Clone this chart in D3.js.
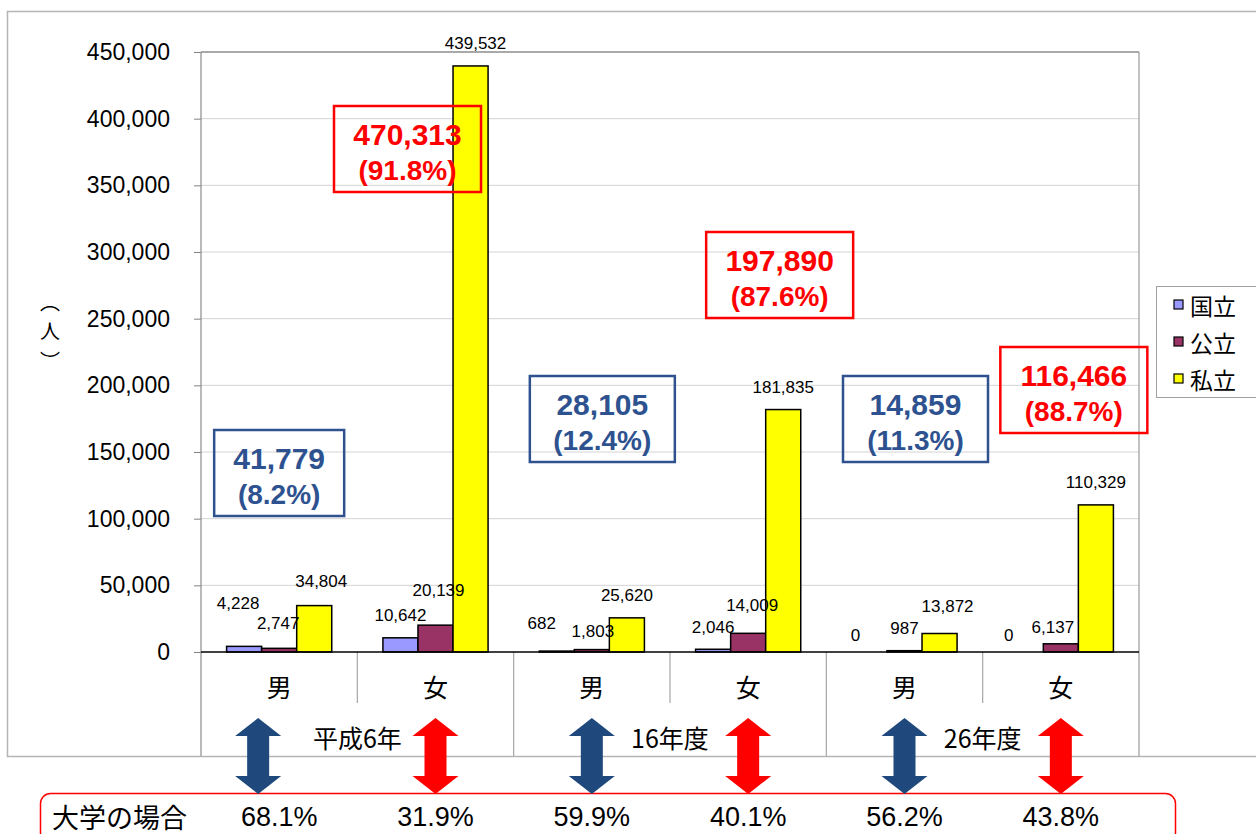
<!DOCTYPE html>
<html>
<head>
<meta charset="utf-8">
<script src="https://cdn.jsdelivr.net/npm/d3@7"></script>
<style>
  body { margin: 0; background: #fff; }
  svg { display: block; }
</style>
</head>
<body>
<div id="chart"></div>
<script>
// 男女別・設置者別の学生数
const groups = ["男", "女", "男", "女", "男", "女"];
const years = ["平成6年", "16年度", "26年度"];
const series = ["国立", "公立", "私立"];
const kokuritsu = [4228, 10642, 682, 2046, 0, 0];
const kouritsu = [2747, 20139, 1803, 14009, 987, 6137];
const shiritsu = [34804, 439532, 25620, 181835, 13872, 110329];
const univShare = ["68.1%", "31.9%", "59.9%", "40.1%", "56.2%", "43.8%"];
const yTicks = [0, 50000, 100000, 150000, 200000, 250000, 300000, 350000, 400000, 450000];
const yTitle = ["︵", "人", "︶"];

// layout only: hand-moved labels, annotation boxes, arrows
const labelNudge = [
  [[-6, -21], [-1, -3], [7, -2]],
  [[0, 0], [3, -13], [5, 0]],
  [[-15, -6], [1, 4], [0, 0]],
  [[0, 0], [4, -6], [0, 0]],
  [[-14, 5], [0, 0], [8, -5]],
  [[-17, 5], [-8, 6], [0, 0]]
];
const boxLayout = [
  { dx: 0, top: 166500, w: 130 },
  { dx: -28, top: 409500, w: 147 },
  { dx: 10.5, top: 207000, w: 145 },
  { dx: 31.5, top: 315000, w: 147 },
  { dx: 11, top: 207000, w: 145 },
  { dx: 13, top: 228750, w: 147 }
];
const arrowNudge = [-21, 0, 0, 0, 0, 0];

const colors = ["#9999ff", "#993366", "#ffff00"];
const blue = "#1f497d", red = "#ff0000";
const numFont = "'Liberation Sans', Arial, sans-serif";
const jpFont = "'Noto Sans CJK JP', sans-serif";

const W = 1256, H = 834;
const svg = d3.select("#chart").append("svg").attr("width", W).attr("height", H);

const plotL = 201, plotR = 1139, plotT = 52, plotB = 652;

const x0 = d3.scaleBand().domain(d3.range(groups.length)).range([plotL, plotR]);
const x1 = d3.scaleBand().domain(series).range([0, x0.bandwidth()]).paddingOuter(0.73);
const y = d3.scaleLinear().domain([0, 450000]).range([plotB, plotT]);

const values = [kokuritsu, kouritsu, shiritsu];

// outer frame
svg.append("rect")
  .attr("x", 7.5).attr("y", 11.5).attr("width", 1400).attr("height", 745)
  .attr("fill", "none").attr("stroke", "#b4b4b4").attr("stroke-width", 1.5);

// gridlines
svg.append("g").selectAll("line")
  .data(yTicks.filter(d => d > 0 && d < 450000))
  .join("line")
  .attr("x1", plotL).attr("x2", plotR)
  .attr("y1", d => y(d)).attr("y2", d => y(d))
  .attr("stroke", "#d4d4d4").attr("stroke-width", 1);

// plot border top / right
svg.append("line").attr("x1", plotL).attr("x2", plotR).attr("y1", plotT).attr("y2", plotT)
  .attr("stroke", "#8c8c8c").attr("stroke-width", 1.5);
svg.append("line").attr("x1", plotR).attr("x2", plotR).attr("y1", plotT).attr("y2", 756)
  .attr("stroke", "#9a9a9a").attr("stroke-width", 1.2);

// y axis
const yAxis = svg.append("g")
  .attr("transform", `translate(${plotL},0)`)
  .call(d3.axisLeft(y).tickValues(yTicks).tickSize(7).tickPadding(24).tickFormat(d3.format(",")));
yAxis.select(".domain").remove();
yAxis.selectAll(".tick line").attr("stroke", "#808080");
yAxis.selectAll(".tick text")
  .attr("font-family", numFont).attr("font-size", 23).attr("fill", "#000");
svg.append("line").attr("x1", plotL).attr("x2", plotL).attr("y1", plotT).attr("y2", 756)
  .attr("stroke", "#8c8c8c").attr("stroke-width", 1.2);

// y title (人), stacked vertically
svg.append("g").selectAll("text")
  .data(yTitle)
  .join("text")
  .attr("x", 50)
  .attr("y", (d, i) => 301 + i * 29.5)
  .attr("text-anchor", "middle").attr("dominant-baseline", "central")
  .attr("font-family", jpFont).attr("font-size", 20)
  .text(d => d);

// category separators
d3.range(1, groups.length).forEach(i => {
  const xx = x0(i);
  svg.append("line")
    .attr("x1", xx).attr("x2", xx)
    .attr("y1", plotB).attr("y2", i % 2 === 0 ? 756 : 703)
    .attr("stroke", "#a6a6a6").attr("stroke-width", 1.2);
});

// bars
const bars = svg.append("g");
groups.forEach((g, gi) => {
  series.forEach((s, si) => {
    const v = values[si][gi];
    bars.append("rect")
      .attr("x", x0(gi) + x1(s))
      .attr("y", y(v))
      .attr("width", x1.bandwidth())
      .attr("height", plotB - y(v))
      .attr("fill", colors[si])
      .attr("stroke", "#000").attr("stroke-width", 1.5);
  });
});

// x axis line
svg.append("line").attr("x1", plotL).attr("x2", plotR).attr("y1", plotB).attr("y2", plotB)
  .attr("stroke", "#000").attr("stroke-width", 1.5);

// data labels
const labels = svg.append("g")
  .attr("font-family", numFont).attr("font-size", 17).attr("text-anchor", "middle");
groups.forEach((g, gi) => {
  series.forEach((s, si) => {
    const v = values[si][gi];
    const n = labelNudge[gi][si];
    labels.append("text")
      .attr("x", x0(gi) + x1(s) + x1.bandwidth() / 2 + n[0])
      .attr("y", y(v) - 22 + n[1])
      .attr("dominant-baseline", "central")
      .text(d3.format(",")(v));
  });
});

// category labels
svg.append("g").selectAll("text")
  .data(groups)
  .join("text")
  .attr("x", (d, i) => x0(i) + x0.bandwidth() / 2)
  .attr("y", 686)
  .attr("dominant-baseline", "central")
  .attr("text-anchor", "middle")
  .attr("font-family", jpFont).attr("font-size", 25)
  .text(d => d);

svg.append("g").selectAll("text")
  .data(years)
  .join("text")
  .attr("x", (d, i) => x0(i * 2 + 1))
  .attr("y", 737)
  .attr("dominant-baseline", "central")
  .attr("text-anchor", "middle")
  .attr("font-family", jpFont).attr("font-size", 25)
  .text(d => d);

// legend
const lg = svg.append("g");
lg.append("rect").attr("x", 1156.5).attr("y", 286.5).attr("width", 110).attr("height", 111)
  .attr("fill", "#fff").attr("stroke", "#a0a0a0").attr("stroke-width", 1);
series.forEach((s, i) => {
  const cy = 305 + i * 37;
  lg.append("rect").attr("x", 1174).attr("y", cy - 5).attr("width", 9).attr("height", 9)
    .attr("fill", colors[i]).attr("stroke", "#000").attr("stroke-width", 1.2);
  lg.append("text").attr("x", 1190).attr("y", cy)
    .attr("dominant-baseline", "central")
    .attr("font-family", jpFont).attr("font-size", 23)
    .text(s);
});

// total boxes
const totals = groups.map((g, gi) => kokuritsu[gi] + kouritsu[gi] + shiritsu[gi]);
const boxes = svg.append("g");
totals.forEach((t, gi) => {
  const yearTotal = totals[gi - (gi % 2)] + totals[gi - (gi % 2) + 1];
  const pct = d3.format(".1%")(t / yearTotal);
  const b = boxLayout[gi];
  const cx = x0(gi) + x0.bandwidth() / 2 + b.dx;
  const ty = y(b.top);
  const col = gi % 2 === 0 ? "#2f528f" : red;
  const txtCol = gi % 2 === 0 ? "#2e5290" : red;
  boxes.append("rect")
    .attr("x", cx - b.w / 2).attr("y", ty).attr("width", b.w).attr("height", 86)
    .attr("fill", "none").attr("stroke", col).attr("stroke-width", 2.5);
  boxes.append("text")
    .attr("x", cx).attr("y", ty + 28)
    .attr("text-anchor", "middle").attr("dominant-baseline", "central")
    .attr("font-family", numFont).attr("font-weight", "bold").attr("font-size", 30)
    .attr("fill", txtCol)
    .text(d3.format(",")(t));
  boxes.append("text")
    .attr("x", cx).attr("y", ty + 64)
    .attr("text-anchor", "middle").attr("dominant-baseline", "central")
    .attr("font-family", numFont).attr("font-weight", "bold").attr("font-size", 28)
    .attr("fill", txtCol)
    .text("(" + pct + ")");
});

// bottom box: 大学の場合
svg.append("rect")
  .attr("x", 40.5).attr("y", 793.5).attr("width", 1135).attr("height", 90).attr("rx", 10)
  .attr("fill", "#fff").attr("stroke", red).attr("stroke-width", 1.5);
svg.append("text")
  .attr("x", 52).attr("y", 816)
  .attr("dominant-baseline", "central")
  .attr("font-family", jpFont).attr("font-size", 27)
  .text("大学の場合");
svg.append("g").selectAll("text")
  .data(univShare)
  .join("text")
  .attr("x", (d, i) => x0(i) + x0.bandwidth() / 2)
  .attr("y", 817)
  .attr("text-anchor", "middle").attr("dominant-baseline", "central")
  .attr("font-family", numFont).attr("font-size", 27)
  .text(d => d);

// double arrows
const arrowPath = (cx) => {
  const t = 718, b = 794, hh = 18, hw = 23, sw = 11;
  return `M${cx},${t} L${cx + hw},${t + hh} L${cx + sw},${t + hh} L${cx + sw},${b - hh} L${cx + hw},${b - hh}` +
    ` L${cx},${b} L${cx - hw},${b - hh} L${cx - sw},${b - hh} L${cx - sw},${t + hh} L${cx - hw},${t + hh} Z`;
};
svg.append("g").selectAll("path")
  .data(groups)
  .join("path")
  .attr("d", (d, i) => arrowPath(x0(i) + x0.bandwidth() / 2 + arrowNudge[i]))
  .attr("fill", (d, i) => i % 2 === 0 ? blue : red);
</script>
</body>
</html>
